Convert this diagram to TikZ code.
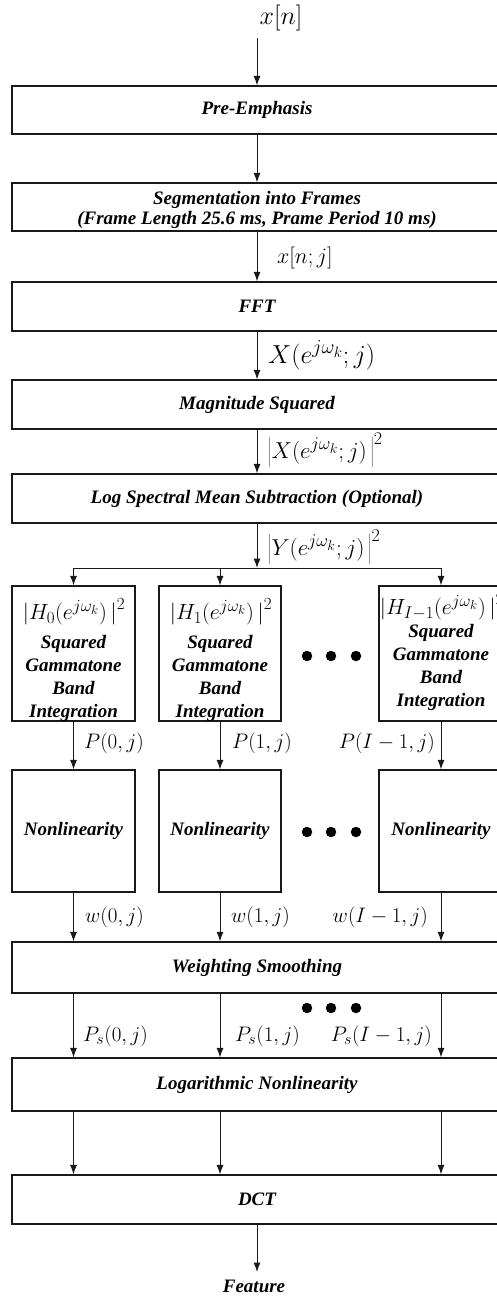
\documentclass[tikz,border=0pt]{standalone}
\usepackage{fix-cm}
\usepackage[no-math]{fontspec}
\newfontfamily\bif{Liberation Serif}
\usetikzlibrary{arrows.meta}
\DeclareMathSizes{21}{21}{16}{12}
\DeclareMathSizes{22}{22}{17}{13}
\DeclareMathSizes{23}{23}{18}{14}
\DeclareMathSizes{26}{26}{20}{15}
\tikzset{
  box/.style={draw=black!90, line width=1.2pt, rectangle, inner sep=0pt},
  wide/.style={box, minimum width=490pt},
  arr/.style={draw=black!90, line width=1pt, -{Latex[length=9.5pt,width=7pt]}},
  ln/.style={draw=black!90, line width=1pt},
  btxt/.style={font=\fontsize{19}{23}\selectfont\bif\bfseries\itshape, inner sep=0pt, align=center},
  mlab/.style={font=\fontsize{21}{25}\selectfont, inner sep=0pt, anchor=west},
  hlab/.style={font=\fontsize{22}{26}\selectfont, inner sep=0pt},
  blab/.style={font=\fontsize{23}{27}\selectfont, inner sep=0pt, anchor=west},
  dot/.style={circle, fill=black, inner sep=0pt, minimum size=10.5pt},
}
\begin{document}
\begin{tikzpicture}[x=1pt,y=-1pt]
\useasboundingbox (0,0) rectangle (496,1299);
% input
\node[inner sep=0pt, font=\fontsize{26}{30}\selectfont] (xn) at (281,18) {$x[n]$};
\coordinate (in) at (257,38);
% wide boxes
\node[wide, btxt, minimum height=48pt] (pre) at (257,110) {Pre-Emphasis};
\node[wide, minimum height=48pt] (seg) at (257,207) {};
\node[btxt, font=\fontsize{19}{20}\selectfont\bif\bfseries\itshape] (segt) at (257,210) {Segmentation into Frames\\(Frame Length 25.6 ms, Prame Period 10 ms)};
\node[wide, btxt, minimum height=49pt] (fft) at (257,306.5) {FFT};
\node[wide, btxt, minimum height=49pt] (mag) at (257,404.5) {Magnitude Squared};
\node[wide, btxt, minimum height=49pt] (lsms) at (257,498.5) {Log Spectral Mean Subtraction (Optional)};
% labels
\node[mlab, font=\fontsize{22}{26}\selectfont] (l1) at (277,258) {$x[n;j]$};
\node[blab, font=\fontsize{26}{30}\selectfont] (l2) at (268,355) {$X(e^{j\omega_k};j)$};
\node[blab] (l3) at (268,450) {$\left|X(e^{j\omega_k};j)\,\right|^2$};
\node[blab] (l4) at (268,547) {$\left|Y(e^{j\omega_k};j)\,\right|^2$};
% arrows top chain
\draw[arr] (in) -- (pre.north);
\draw[arr] (pre) -- (seg);
\draw[arr] (seg) -- (fft);
\draw[arr] (fft) -- (mag);
\draw[arr] (mag) -- (lsms);
\coordinate (split) at (257,568);
\coordinate (s0) at (73.5,568);
\coordinate (s1) at (220,568);
\coordinate (s2) at (441,568);
\draw[arr] (lsms) -- (split);
\draw[ln] (s0) -- (s2);
% gammatone boxes
\node[box, minimum width=123pt, minimum height=135pt] (g0) at (73.5,653.5) {};
\node[box, minimum width=122pt, minimum height=135pt] (g1) at (220,653.5) {};
\node[box, minimum width=124pt, minimum height=135pt] (g2) at (441,653.5) {};
\draw[arr] (s0) -- (g0.north);
\draw[arr] (s1) -- (g1.north);
\draw[arr] (s2) -- (g2.north);
\node[hlab] (h0) at (74,612) {$\bigl|H_0(e^{j\omega_k})\,\bigr|^2$};
\node[hlab] (h1) at (221,612) {$\bigl|H_1(e^{j\omega_k})\,\bigr|^2$};
\node[hlab] (h2) at (442,607) {$\bigl|H_{I-1}(e^{j\omega_k})\,\bigr|^2$};
\node[btxt] (t0) at (73.5,678) {Squared\\Gammatone\\Band\\Integration};
\node[btxt] (t1) at (220,678) {Squared\\Gammatone\\Band\\Integration};
\node[btxt] (t2) at (441,667) {Squared\\Gammatone\\Band\\Integration};
\node[dot] (d1a) at (307,656) {};
\node[dot] (d1b) at (331,656) {};
\node[dot] (d1c) at (356,656) {};
% nonlinearity boxes
\node[box, btxt, minimum width=123pt, minimum height=122pt] (n0) at (73.5,831) {Nonlinearity};
\node[box, btxt, minimum width=122pt, minimum height=122pt] (n1) at (220,831) {Nonlinearity};
\node[box, btxt, minimum width=124pt, minimum height=122pt] (n2) at (441,831) {Nonlinearity};
\draw[arr] (g0) -- (n0);
\draw[arr] (g1) -- (n1);
\draw[arr] (g2) -- (n2);
\node[mlab] (p0) at (84,743) {$P(0,j)$};
\node[mlab] (p1) at (232,743) {$P(1,j)$};
\node[mlab, anchor=east] (p2) at (435,743) {$P(I-1,j)$};
\node[dot] (d2a) at (307,832) {};
\node[dot] (d2b) at (331,832) {};
\node[dot] (d2c) at (356,832) {};
% weighting smoothing
\node[wide, btxt, minimum height=51pt] (ws) at (257,967.5) {Weighting Smoothing};
\draw[arr] (n0) -- (n0 |- ws.north);
\draw[arr] (n1) -- (n1 |- ws.north);
\draw[arr] (n2) -- (n2 |- ws.north);
\node[mlab] (w0) at (85,917) {$w(0,j)$};
\node[mlab] (w1) at (231,917) {$w(1,j)$};
\node[mlab, anchor=east] (w2) at (428,917) {$w(I-1,j)$};
\node[dot] (d3a) at (307,1008) {};
\node[dot] (d3b) at (331,1008) {};
\node[dot] (d3c) at (356,1008) {};
% logarithmic
\node[wide, btxt, minimum height=53pt] (log) at (257,1084.5) {Logarithmic Nonlinearity};
\draw[arr] (ws.south -| n0) -- (log.north -| n0);
\draw[arr] (ws.south -| n1) -- (log.north -| n1);
\draw[arr] (ws.south -| n2) -- (log.north -| n2);
\node[mlab] (ps0) at (83,1036) {$P_s(0,j)$};
\node[mlab] (ps1) at (235,1036) {$P_s(1,j)$};
\node[mlab, anchor=east] (ps2) at (432,1036) {$P_s(I-1,j)$};
% DCT
\node[wide, btxt, minimum height=49pt] (dct) at (257,1199.5) {DCT};
\draw[arr] (log.south -| n0) -- (dct.north -| n0);
\draw[arr] (log.south -| n1) -- (dct.north -| n1);
\draw[arr] (log.south -| n2) -- (dct.north -| n2);
\node[btxt] (feat) at (254,1286) {Feature};
\coordinate (fin) at (257,1272);
\draw[arr] (dct) -- (fin);
\end{tikzpicture}
\end{document}
